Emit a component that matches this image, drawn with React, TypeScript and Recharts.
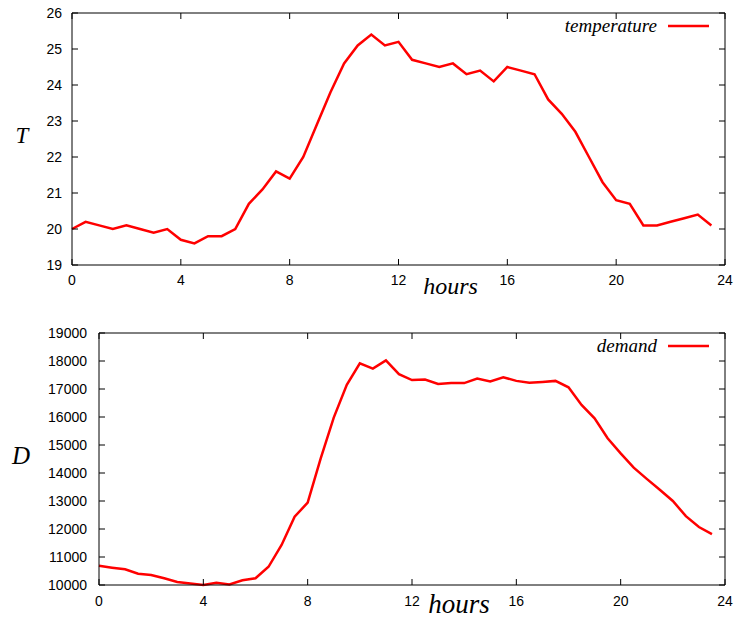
import React from 'react';
import { LineChart, Line, XAxis, YAxis, Legend } from 'recharts';

const hours = [
  0, 0.5, 1, 1.5, 2, 2.5, 3, 3.5, 4, 4.5, 5, 5.5, 6, 6.5, 7, 7.5, 8, 8.5, 9, 9.5, 10, 10.5, 11, 11.5,
  12, 12.5, 13, 13.5, 14, 14.5, 15, 15.5, 16, 16.5, 17, 17.5, 18, 18.5, 19, 19.5, 20, 20.5, 21, 21.5,
  22, 22.5, 23, 23.5,
];

const temperature = [
  20.0, 20.2, 20.1, 20.0, 20.1, 20.0, 19.9, 20.0, 19.7, 19.6, 19.8, 19.8, 20.0, 20.7, 21.1, 21.6,
  21.4, 22.0, 22.9, 23.8, 24.6, 25.1, 25.4, 25.1, 25.2, 24.7, 24.6, 24.5, 24.6, 24.3, 24.4, 24.1,
  24.5, 24.4, 24.3, 23.6, 23.2, 22.7, 22.0, 21.3, 20.8, 20.7, 20.1, 20.1, 20.2, 20.3, 20.4, 20.1,
];

const demand = [
  10690, 10620, 10560, 10400, 10360, 10240, 10110, 10050, 10000, 10080, 10020, 10170, 10240, 10650,
  11430, 12440, 12940, 14520, 15980, 17150, 17920, 17730, 18020, 17530, 17320, 17340, 17180, 17210,
  17210, 17370, 17270, 17420, 17290, 17220, 17250, 17290, 17060, 16430, 15950, 15240, 14700, 14190,
  13790, 13400, 13000, 12460, 12070, 11820,
];

const hourTicks = [0, 4, 8, 12, 16, 20, 24];
const tempTicks = [19, 20, 21, 22, 23, 24, 25, 26];
const demandTicks = [10000, 11000, 12000, 13000, 14000, 15000, 16000, 17000, 18000, 19000];

const tempData = hours.map((h, i) => ({ h, temperature: temperature[i] }));
const demandData = hours.map((h, i) => ({ h, demand: demand[i] }));

const SANS = "'Liberation Sans', Arial, Helvetica, sans-serif";
const SERIF = "'Liberation Serif', 'Times New Roman', serif";
const RED = '#ff0000';
const TL = 6;

const makeBottomTick = (dy: number, fs: number) => (props: any) => {
  const { x, y, payload } = props;
  return (
    <g>
      <line x1={x} y1={y} x2={x} y2={y - TL} stroke="#000" strokeWidth={1} />
      <text x={x} y={y + dy} textAnchor="middle" fontFamily={SANS} fontSize={fs} fill="#000">
        {payload.value}
      </text>
    </g>
  );
};

const makeLeftTick = (gap: number, fs: number) => (props: any) => {
  const { x, y, payload } = props;
  return (
    <g>
      <line x1={x} y1={y} x2={x + TL} y2={y} stroke="#000" strokeWidth={1} />
      <text x={x - gap} y={y + 5} textAnchor="end" fontFamily={SANS} fontSize={fs} fill="#000">
        {payload.value}
      </text>
    </g>
  );
};

const TopTick = (props: any) => {
  const { x, y } = props;
  return <line x1={x} y1={y} x2={x} y2={y + TL} stroke="#000" strokeWidth={1} />;
};

const RightTick = (props: any) => {
  const { x, y } = props;
  return <line x1={x} y1={y} x2={x - TL} y2={y} stroke="#000" strokeWidth={1} />;
};

const makeYTitle = (text: string, cx: number, dy: number, fs: number) => (props: any) => {
  const vb = props.viewBox || {};
  return (
    <text
      x={vb.x + cx}
      y={vb.y + vb.height / 2 + dy}
      textAnchor="middle"
      fontFamily={SERIF}
      fontStyle="italic"
      fontSize={fs}
      fill="#000"
    >
      {text}
    </text>
  );
};

const makeXTitle = (text: string, dx: number, dy: number, fs: number) => (props: any) => {
  const vb = props.viewBox || {};
  return (
    <text
      x={vb.x + vb.width / 2 + dx}
      y={vb.y + dy}
      textAnchor="middle"
      fontFamily={SERIF}
      fontStyle="italic"
      fontSize={fs}
      fill="#000"
    >
      {text}
    </text>
  );
};

const makeLegend = (name: string) => () => (
  <div style={{ display: 'flex', justifyContent: 'flex-end', alignItems: 'center', height: 24 }}>
    <span style={{ fontFamily: SERIF, fontStyle: 'italic', fontSize: 19, color: '#000', marginRight: 11 }}>
      {name}
    </span>
    <svg width={41} height={4}>
      <line x1={0} y1={2} x2={41} y2={2} stroke={RED} strokeWidth={2.5} />
    </svg>
  </div>
);

const axisLine = { stroke: '#000', strokeWidth: 1 };

export default function App() {
  return (
    <div style={{ position: 'absolute', left: 0, top: 0, width: 735, height: 621, background: '#fff' }}>
      <div style={{ position: 'absolute', left: 0, top: 0 }}>
        <LineChart width={735} height={300} data={tempData} margin={{ top: 12, right: 9, bottom: 0, left: 0 }}>
          <XAxis
            dataKey="h"
            type="number"
            domain={[0, 24]}
            ticks={hourTicks}
            interval={0}
            height={35}
            tickSize={0}
            tickMargin={0}
            tickLine={false}
            axisLine={axisLine}
            tick={makeBottomTick(20, 14)}
            label={{ content: makeXTitle('hours', 52, 29, 24) }}
          />
          <XAxis
            xAxisId="top"
            dataKey="h"
            orientation="top"
            type="number"
            domain={[0, 24]}
            ticks={hourTicks}
            interval={0}
            height={1}
            tickSize={0}
            tickMargin={0}
            tickLine={false}
            axisLine={axisLine}
            tick={TopTick}
          />
          <YAxis
            type="number"
            domain={[19, 26]}
            ticks={tempTicks}
            interval={0}
            width={72}
            tickSize={0}
            tickMargin={0}
            tickLine={false}
            axisLine={axisLine}
            tick={makeLeftTick(10, 14)}
            label={{ content: makeYTitle('T', 22, 4, 23) }}
          />
          <YAxis
            yAxisId="right"
            orientation="right"
            type="number"
            domain={[19, 26]}
            ticks={tempTicks}
            interval={0}
            width={1}
            tickSize={0}
            tickMargin={0}
            tickLine={false}
            axisLine={axisLine}
            tick={RightTick}
          />
          <Legend
            layout="horizontal"
            verticalAlign="middle"
            align="center"
            wrapperStyle={{ top: 14, left: 500, width: 209, height: 24 }}
            content={makeLegend('temperature')}
          />
          <Line
            xAxisId="top"
            yAxisId="right"
            type="linear"
            dataKey="temperature"
            legendType="none"
            stroke="none"
            dot={false}
            activeDot={false}
            isAnimationActive={false}
          />
          <Line
            type="linear"
            dataKey="temperature"
            name="temperature"
            stroke={RED}
            strokeWidth={2.5}
            dot={false}
            activeDot={false}
            isAnimationActive={false}
          />
        </LineChart>
      </div>
      <div style={{ position: 'absolute', left: 0, top: 315 }}>
        <LineChart width={735} height={306} data={demandData} margin={{ top: 17, right: 9, bottom: 0, left: 0 }}>
          <XAxis
            dataKey="h"
            type="number"
            domain={[0, 24]}
            ticks={hourTicks}
            interval={0}
            height={36}
            tickSize={0}
            tickMargin={0}
            tickLine={false}
            axisLine={axisLine}
            tick={makeBottomTick(21, 14)}
            label={{ content: makeXTitle('hours', 47, 28, 27) }}
          />
          <XAxis
            xAxisId="top"
            dataKey="h"
            orientation="top"
            type="number"
            domain={[0, 24]}
            ticks={hourTicks}
            interval={0}
            height={1}
            tickSize={0}
            tickMargin={0}
            tickLine={false}
            axisLine={axisLine}
            tick={TopTick}
          />
          <YAxis
            type="number"
            domain={[10000, 19000]}
            ticks={demandTicks}
            interval={0}
            width={99}
            tickSize={0}
            tickMargin={0}
            tickLine={false}
            axisLine={axisLine}
            tick={makeLeftTick(12, 14)}
            label={{ content: makeYTitle('D', 21, 5, 25) }}
          />
          <YAxis
            yAxisId="right"
            orientation="right"
            type="number"
            domain={[10000, 19000]}
            ticks={demandTicks}
            interval={0}
            width={1}
            tickSize={0}
            tickMargin={0}
            tickLine={false}
            axisLine={axisLine}
            tick={RightTick}
          />
          <Legend
            layout="horizontal"
            verticalAlign="middle"
            align="center"
            wrapperStyle={{ top: 19, left: 500, width: 209, height: 24 }}
            content={makeLegend('demand')}
          />
          <Line
            xAxisId="top"
            yAxisId="right"
            type="linear"
            dataKey="demand"
            legendType="none"
            stroke="none"
            dot={false}
            activeDot={false}
            isAnimationActive={false}
          />
          <Line
            type="linear"
            dataKey="demand"
            name="demand"
            stroke={RED}
            strokeWidth={2.5}
            dot={false}
            activeDot={false}
            isAnimationActive={false}
          />
        </LineChart>
      </div>
    </div>
  );
}
